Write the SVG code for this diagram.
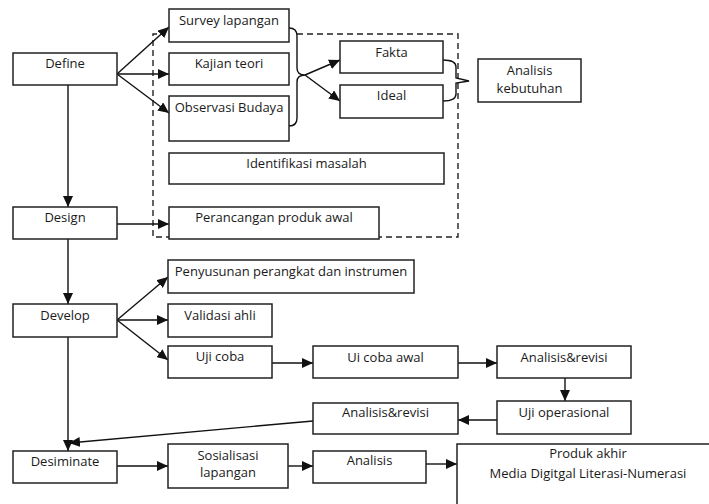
<svg xmlns="http://www.w3.org/2000/svg" width="709" height="504" viewBox="0 0 709 504">
<defs>
<marker id="ah" markerWidth="11" markerHeight="10" refX="11" refY="5" orient="auto" markerUnits="userSpaceOnUse">
<path d="M0,0 L11,5 L0,10 z" fill="#111"/>
</marker>
<style>
.box{fill:#fff;stroke:#222;stroke-width:1.5}
.t{font-family:"Open Sans","Liberation Sans",sans-serif;font-size:13px;fill:#1a1a1a;text-anchor:middle}
.c{fill:none;stroke:#111;stroke-width:1.4}
.a{fill:none;stroke:#111;stroke-width:1.4;marker-end:url(#ah)}
.d{fill:none;stroke:#222;stroke-width:1.4;stroke-dasharray:6,4}
</style>
</defs>
<rect width="709" height="504" fill="#fff"/>
<path class="d" d="M297,34 H458 V237 H153 V34 H158"/>
<g id="connectors">
<path class="a" d="M117,74 L169,27"/>
<path class="a" d="M117,74 L169,74"/>
<path class="a" d="M117,74 L169,113"/>
<path class="a" d="M68,85 V207"/>
<path class="a" d="M117,224 H169"/>
<path class="a" d="M68,239 V304"/>
<path class="a" d="M117,320 L168,277"/>
<path class="a" d="M117,320 H168"/>
<path class="a" d="M117,320 L168,360"/>
<path class="a" d="M272,363 H313"/>
<path class="a" d="M458,363 H497"/>
<path class="a" d="M565,378 V401"/>
<path class="a" d="M497,420 H458"/>
<path class="a" d="M313,421 L69,443"/>
<path class="a" d="M68,337 V451"/>
<path class="a" d="M117,466 H168"/>
<path class="a" d="M288,466 H313"/>
<path class="a" d="M426,464 H457"/>
<path class="a" d="M305,75 L340,60"/>
<path class="a" d="M305,75 L340,101"/>
<path class="c" d="M289,28 Q297,28 297,36 V68 Q297,75 305,75 Q297,75 297,82 V118 Q297,126 289,126"/>
<path class="c" d="M443,60 Q456,60 456,67 V78 L469,81 L456,83 V94 Q456,101 443,101"/>
</g>
<g id="define"><rect class="box" x="13" y="53" width="104" height="32"/><text class="t" x="65" y="68">Define</text></g>
<g id="survey"><rect class="box" x="169" y="9" width="120" height="33"/><text class="t" x="229" y="25">Survey lapangan</text></g>
<g id="kajian"><rect class="box" x="169" y="53" width="120" height="32"/><text class="t" x="229" y="68">Kajian teori</text></g>
<g id="observasi"><rect class="box" x="169" y="96" width="120" height="45"/><text class="t" x="229" y="112">Observasi Budaya</text></g>
<g id="fakta"><rect class="box" x="340" y="41" width="103" height="32"/><text class="t" x="391.5" y="57">Fakta</text></g>
<g id="ideal"><rect class="box" x="340" y="85" width="103" height="33"/><text class="t" x="391.5" y="100">Ideal</text></g>
<g id="analisis-kebutuhan"><rect class="box" x="478" y="59" width="103" height="43"/><text class="t" x="529.5" y="75">Analisis</text><text class="t" x="529.5" y="93">kebutuhan</text></g>
<g id="identifikasi"><rect class="box" x="169" y="153" width="275" height="31"/><text class="t" x="306.5" y="168">Identifikasi masalah</text></g>
<g id="design"><rect class="box" x="13" y="207" width="104" height="32"/><text class="t" x="65" y="222">Design</text></g>
<g id="perancangan"><rect class="box" x="169" y="207" width="210" height="32"/><text class="t" x="274" y="222">Perancangan produk awal</text></g>
<g id="develop"><rect class="box" x="13" y="304" width="104" height="33"/><text class="t" x="65" y="320">Develop</text></g>
<g id="penyusunan"><rect class="box" x="168" y="260" width="246" height="33"/><text class="t" x="291" y="276">Penyusunan perangkat dan instrumen</text></g>
<g id="validasi"><rect class="box" x="168" y="304" width="104" height="33"/><text class="t" x="220" y="320">Validasi ahli</text></g>
<g id="ujicoba"><rect class="box" x="168" y="346" width="104" height="32"/><text class="t" x="220" y="361">Uji coba</text></g>
<g id="uicoba-awal"><rect class="box" x="313" y="346" width="145" height="32"/><text class="t" x="385.5" y="362">Ui coba awal</text></g>
<g id="analisis-revisi-1"><rect class="box" x="497" y="346" width="134" height="32"/><text class="t" x="564" y="362">Analisis&amp;revisi</text></g>
<g id="uji-operasional"><rect class="box" x="497" y="401" width="134" height="33"/><text class="t" x="564" y="417">Uji operasional</text></g>
<g id="analisis-revisi-2"><rect class="box" x="313" y="403" width="145" height="31"/><text class="t" x="385.5" y="417">Analisis&amp;revisi</text></g>
<g id="desiminate"><rect class="box" x="13" y="451" width="104" height="32"/><text class="t" x="65" y="466">Desiminate</text></g>
<g id="sosialisasi"><rect class="box" x="168" y="444" width="120" height="44"/><text class="t" x="228" y="460">Sosialisasi</text><text class="t" x="228" y="477">lapangan</text></g>
<g id="analisis"><rect class="box" x="313" y="451" width="113" height="32"/><text class="t" x="369.5" y="465">Analisis</text></g>
<g id="produk-akhir"><rect class="box" x="457" y="444" width="270" height="80"/><text class="t" x="588" y="458">Produk akhir</text><text class="t" x="588" y="478">Media Digitgal Literasi-Numerasi</text></g>
</svg>
